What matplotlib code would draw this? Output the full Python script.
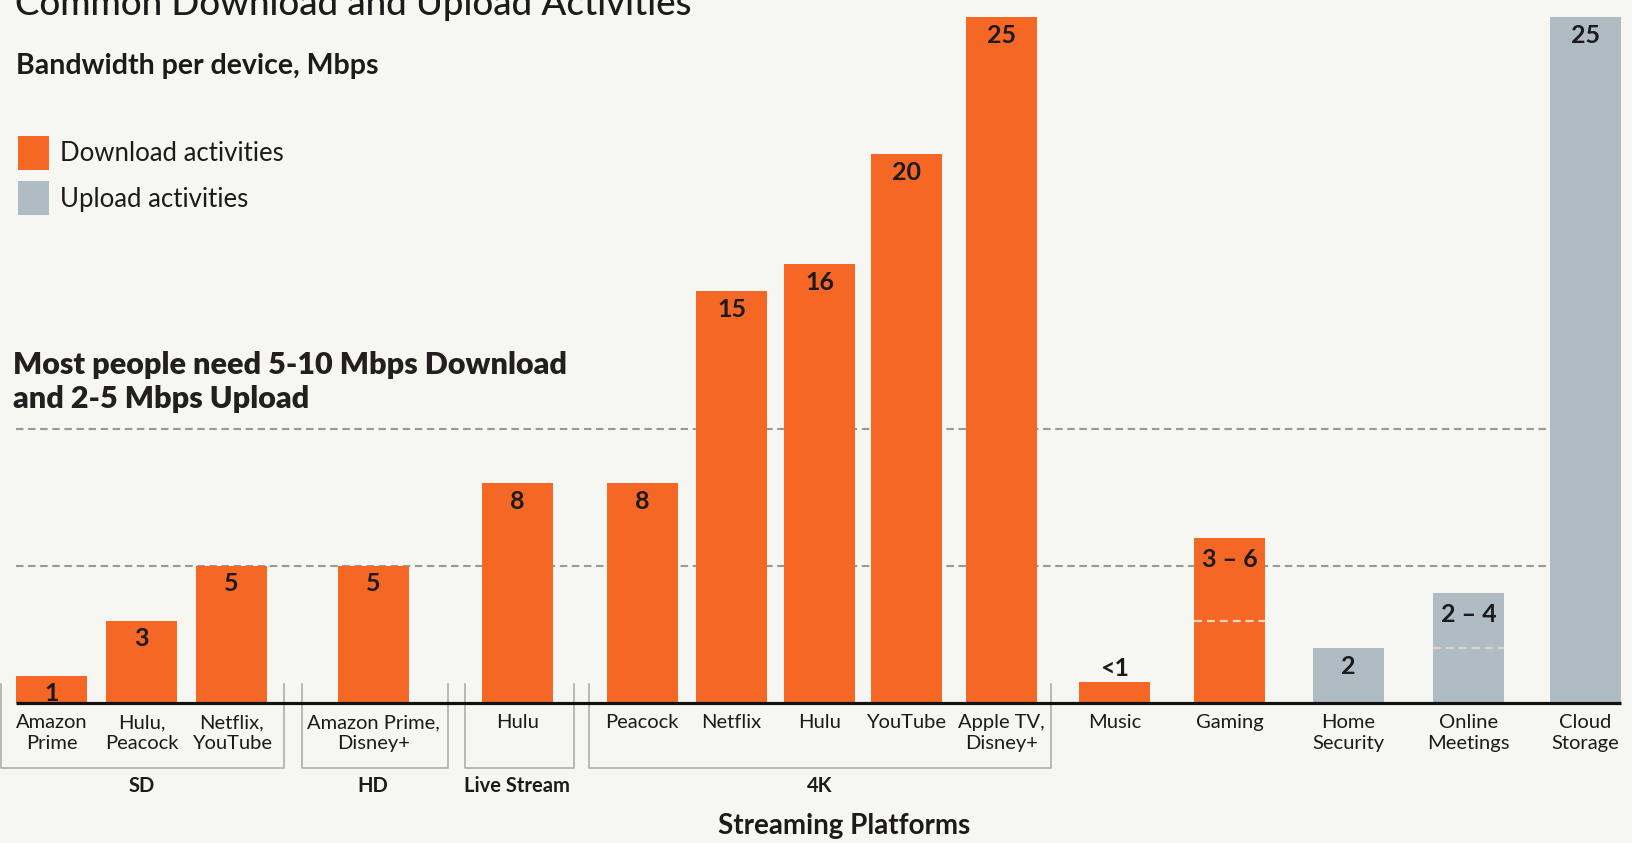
import matplotlib.pyplot as plt
import matplotlib.transforms as mtransforms
from matplotlib.patches import Patch

plt.rcParams['font.family'] = ['Lato', 'DejaVu Sans']

# ---- data ----
categories = ["Amazon\nPrime", "Hulu,\nPeacock", "Netflix,\nYouTube",
              "Amazon Prime,\nDisney+", "Hulu",
              "Peacock", "Netflix", "Hulu", "YouTube", "Apple TV,\nDisney+",
              "Music", "Gaming", "Home\nSecurity", "Online\nMeetings", "Cloud\nStorage"]
values = [1, 3, 5, 5, 8, 8, 15, 16, 20, 25, 0.75, 6, 2, 4, 25]
value_labels = ["1", "3", "5", "5", "8", "8", "15", "16", "20", "25",
                "<1", "3 \u2013 6", "2", "2 \u2013 4", "25"]
activity = ["download"] * 12 + ["upload"] * 3
range_low = [None] * 11 + [3, None, 2, None]
groups = ["SD", "HD", "Live Stream", "4K"]
group_members = [[0, 1, 2], [3], [4], [5, 6, 7, 8, 9]]
guide_levels = [5, 10]

# ---- layout (pixels on the 1633 x 843 canvas) ----
W, H = 1633, 843
xpos = [51.8, 141.5, 231.7, 373.2, 517.3, 642.3, 731.5, 819.6, 906.4, 1001.5,
        1114.6, 1229.6, 1348.6, 1468.7, 1585.6]
bar_w = 70.7
bracket_pads = [(15, 17), (36, 39), (17, 21), (18, 14)]

colors = {"download": "#F46725", "upload": "#AFBCC4"}
range_colors = {"download": "#F9D5BF", "upload": "#DAD6C9"}
bg = "#F6F6F2"
ink = "#1c1a1b"

fig = plt.figure(figsize=(W / 100, H / 100), dpi=100, facecolor=bg)
ax = fig.add_axes([0, 140 / H, 1, 686 / H])
ax.set_facecolor(bg)
ax.set_xlim(0, W)
ax.set_ylim(0, 25)

left_edge = xpos[0] - bar_w / 2
right_edge = xpos[-1] + bar_w / 2

# guide lines behind the bars
ax.hlines(guide_levels, left_edge, xpos[-1], colors="#999999",
          linestyles=(0, (3.6, 2.2)), lw=1.5, zorder=1)

ax.bar(xpos, values, width=bar_w, color=[colors[a] for a in activity], zorder=2)

# range markers inside the bars
for x, low, a in zip(xpos, range_low, activity):
    if low is not None:
        ax.hlines(low, x - bar_w / 2, x + bar_w / 2, colors=range_colors[a],
                  linestyles=(0, (3.6, 2.2)), lw=1.6, zorder=3)

ax.hlines(0, left_edge, right_edge, colors="#111111", lw=2.3, zorder=4, clip_on=False)

# value labels
for x, v, lab, low in zip(xpos, values, value_labels, range_low):
    if v < 1:
        off = 10
    elif low is not None:
        off = -15
    else:
        off = -13
    ax.annotate(lab, (x, v), xytext=(0, off), textcoords="offset points",
                ha="center", va="center", fontsize=18, weight="bold", color=ink)

ax.set_xticks(xpos, categories)
ax.tick_params(axis="x", length=0, pad=8, labelsize=14.5, labelcolor=ink)
for t in ax.get_xticklabels():
    t.set_linespacing(1.3)
ax.set_yticks([])
for s in ax.spines.values():
    s.set_visible(False)

# group brackets
blend = mtransforms.blended_transform_factory(ax.transData, fig.transFigure)
y_top, y_bot = 1 - 684 / H, 1 - 768 / H
for name, members, (pl, pr) in zip(groups, group_members, bracket_pads):
    left = xpos[members[0]] - bar_w / 2 - pl
    right = xpos[members[-1]] + bar_w / 2 + pr
    ax.plot([left, left, right, right], [y_top, y_bot, y_bot, y_top],
            transform=blend, color="#b3b3b3", lw=1.3, clip_on=False)
    ax.text(xpos[members[len(members) // 2]], 1 - 786 / H, name, transform=blend,
            ha="center", va="center", fontsize=14.5, weight="bold", color=ink)

ax.set_xlabel("Streaming Platforms", fontsize=20, weight="bold", color=ink)
ax.xaxis.set_label_coords(844 / W, (703 - 826) / 686)
ax.xaxis.label.set_va("center")

# titles and notes
fig.text(15 / W, 1 - 15 / H, "Common Download and Upload Activities",
         fontsize=26.4, weight="medium", va="baseline", color=ink)
fig.text(16 / W, 1 - 66 / H, "Bandwidth per device, Mbps",
         fontsize=20.5, weight="bold", va="center", color=ink)
fig.text(13 / W, 1 - 382 / H, "Most people need 5-10 Mbps Download\nand 2-5 Mbps Upload",
         fontsize=22, weight="heavy", va="center", linespacing=1.27, color="#231f20")

handles = [Patch(facecolor=colors["download"], label="Download activities"),
           Patch(facecolor=colors["upload"], label="Upload activities")]
fig.legend(handles=handles, loc="upper left", bbox_to_anchor=(18 / W, 1 - 136 / H),
           frameon=False, fontsize=18.5, handlelength=1.2, handleheight=1.65,
           handletextpad=0.45, labelspacing=0.45, borderpad=0, borderaxespad=0,
           labelcolor=ink)

fig.savefig("out.png", dpi=100, facecolor=bg)
